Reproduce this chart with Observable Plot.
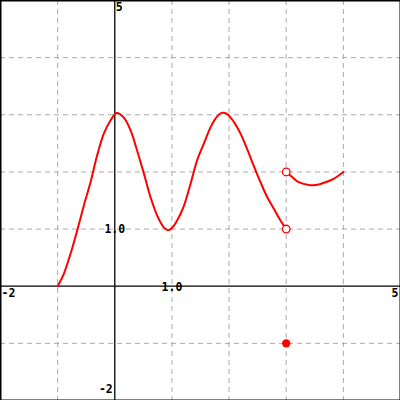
<!DOCTYPE html>
<html>
<head>
<meta charset="utf-8">
<script src="https://cdn.jsdelivr.net/npm/d3@7"></script>
<script src="https://cdn.jsdelivr.net/npm/@observablehq/plot@0.6"></script>
<style>
  html, body { margin: 0; padding: 0; background: #fff; }
  #chart svg { display: block; }
</style>
</head>
<body>
<div id="chart"></div>
<script>
// Domain of the graph
const xDomain = [-2, 5];
const yDomain = [-2, 5];
const gridXs = [-1, 1, 2, 3, 4];
const gridYs = [-1, 1, 2, 3, 4];

// Main curve from (-1,0) to the open point at (3,1)
const curveX = [-1, -0.892, -0.775, -0.658, -0.542, -0.425, -0.308, -0.192, -0.075, 0.03, 0.158, 0.275, 0.39, 0.51, 0.625, 0.74, 0.858, 0.93, 1.0, 1.09, 1.2, 1.325, 1.44, 1.56, 1.675, 1.76, 1.86, 1.955, 2.08, 2.2, 2.317, 2.43, 2.55, 2.667, 2.783, 2.9, 3.0];
const curveY = [0, 0.217, 0.567, 0.975, 1.41, 1.82, 2.29, 2.67, 2.9, 3.03, 2.95, 2.73, 2.375, 1.97, 1.56, 1.24, 1.03, 0.98, 1.02, 1.15, 1.38, 1.79, 2.2, 2.5, 2.78, 2.93, 3.03, 3.02, 2.88, 2.67, 2.4, 2.11, 1.82, 1.56, 1.355, 1.15, 1.0];

// Second piece from the open point (3,2) to (4,2)
const arcX = [3.0, 3.105, 3.22, 3.4, 3.515, 3.69, 3.83, 4.0];
const arcY = [2.0, 1.91, 1.82, 1.77, 1.77, 1.82, 1.88, 2.0];

// Open (hollow) and closed points
const openX = [3, 3];
const openY = [1, 2];
const closedX = [3];
const closedY = [-1];

// Axis labels
const xEndLabels = ["-2", "5"];
const yEndLabels = ["-2", "5"];
const unitLabel = "1.0";

const curve = curveX.map((x, i) => ({x, y: curveY[i]}));
const arc = arcX.map((x, i) => ({x, y: arcY[i]}));
const openPts = openX.map((x, i) => ({x, y: openY[i]}));
const closedPts = closedX.map((x, i) => ({x, y: closedY[i]}));

const font = {fontFamily: "DejaVu Sans Mono", fontWeight: "bold", fontSize: 11.5, fill: "black"};

const plot = Plot.plot({
  width: 400,
  height: 400,
  margin: 0,
  x: {domain: xDomain, axis: null},
  y: {domain: yDomain, axis: null},
  style: {background: "#fff"},
  marks: [
    Plot.ruleX(gridXs, {stroke: "#aaaaaa", strokeDasharray: "5,4", strokeWidth: 1}),
    Plot.ruleY(gridYs, {stroke: "#aaaaaa", strokeDasharray: "5,4", strokeWidth: 1}),
    Plot.ruleX([0], {stroke: "black", strokeWidth: 1.3}),
    Plot.ruleY([0], {stroke: "black", strokeWidth: 1.3}),
    Plot.line(curve, {x: "x", y: "y", stroke: "#ff0000", strokeWidth: 2, curve: "catmull-rom"}),
    Plot.line(arc, {x: "x", y: "y", stroke: "#ff0000", strokeWidth: 2, curve: "catmull-rom"}),
    Plot.dot(openPts, {x: "x", y: "y", r: 3.8, fill: "white", stroke: "#ff0000", strokeWidth: 1.3}),
    Plot.dot(closedPts, {x: "x", y: "y", r: 4.2, fill: "#ff0000", stroke: "none"}),
    // x-axis end labels
    Plot.text([{x: xDomain[0], y: 0, t: xEndLabels[0]}], {x: "x", y: "y", text: "t", textAnchor: "start", lineAnchor: "top", dx: 1, dy: 3, ...font}),
    Plot.text([{x: xDomain[1], y: 0, t: xEndLabels[1]}], {x: "x", y: "y", text: "t", textAnchor: "end", lineAnchor: "top", dx: -2, dy: 3, ...font}),
    // y-axis end labels
    Plot.text([{x: 0, y: yDomain[1], t: yEndLabels[1]}], {x: "x", y: "y", text: "t", textAnchor: "start", lineAnchor: "top", dx: 1, dy: 2, ...font}),
    Plot.text([{x: 0, y: yDomain[0], t: yEndLabels[0]}], {x: "x", y: "y", text: "t", textAnchor: "end", lineAnchor: "bottom", dx: -2, dy: -8, ...font}),
    // unit labels
    Plot.text([{x: 0, y: 1, t: unitLabel}], {x: "x", y: "y", text: "t", textAnchor: "middle", lineAnchor: "middle", dy: 0, ...font}),
    Plot.text([{x: 1, y: 0, t: unitLabel}], {x: "x", y: "y", text: "t", textAnchor: "middle", lineAnchor: "middle", dy: 1, ...font}),
    Plot.frame({stroke: "black", strokeWidth: 2})
  ]
});

document.getElementById("chart").appendChild(plot);
</script>
</body>
</html>
